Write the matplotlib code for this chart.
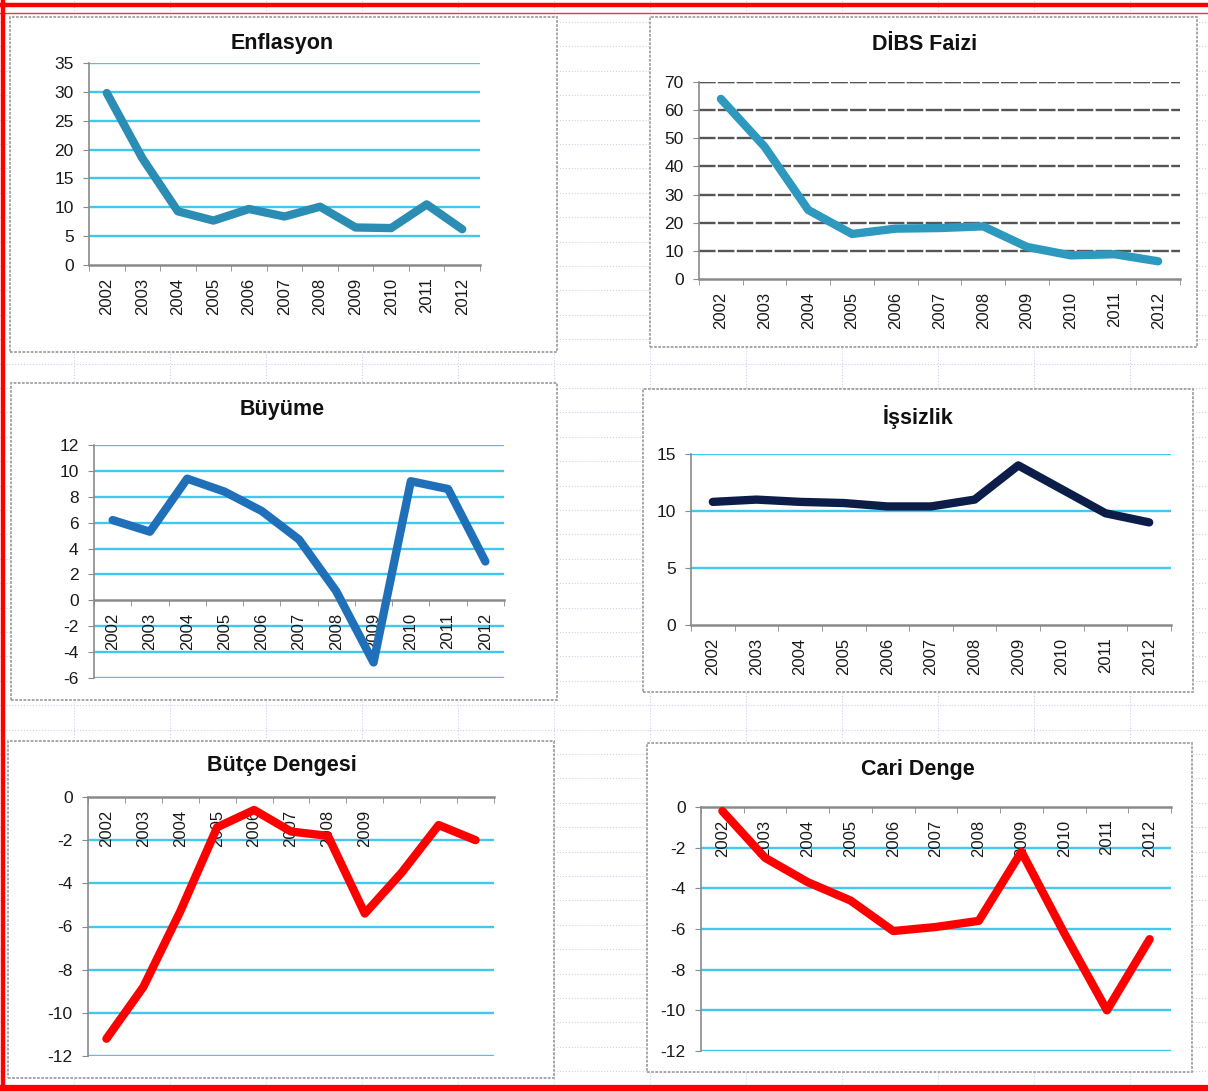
import numpy as np
import matplotlib.pyplot as plt
from matplotlib.patches import Rectangle
from matplotlib.lines import Line2D

plt.rcParams['font.family'] = ['Liberation Sans', 'DejaVu Sans']

years = ['2002', '2003', '2004', '2005', '2006', '2007', '2008', '2009', '2010', '2011', '2012']

enflasyon = [29.8, 18.5, 9.3, 7.7, 9.7, 8.4, 10.1, 6.5, 6.4, 10.5, 6.2]
dibs_faizi = [64.0, 47.0, 24.5, 16.0, 17.9, 18.1, 18.7, 11.4, 8.4, 8.8, 6.3]
buyume = [6.2, 5.3, 9.4, 8.4, 6.9, 4.7, 0.7, -4.8, 9.2, 8.6, 3.0]
issizlik = [10.8, 11.0, 10.8, 10.7, 10.4, 10.4, 11.0, 14.0, 11.9, 9.8, 9.0]
butce_dengesi = [-11.2, -8.8, -5.3, -1.4, -0.6, -1.6, -1.8, -5.4, -3.5, -1.3, -2.0]
cari_denge = [-0.2, -2.5, -3.7, -4.6, -6.1, -5.9, -5.6, -2.2, -6.2, -10.0, -6.5]

W, H = 1208, 1091
fig = plt.figure(figsize=(W / 100, H / 100), dpi=100)
fig.patch.set_facecolor('white')


def fx(px):
    return px / W


def fy(py):
    return 1 - py / H


# faint spreadsheet grid in the background
for x in np.arange(74, W, 96):
    fig.add_artist(Line2D([fx(x), fx(x)], [0, 1], color='#cfd0ee', lw=0.8, ls=':', zorder=0))
for y in np.arange(22, H, 24.4):
    fig.add_artist(Line2D([0, 1], [fy(y), fy(y)], color='#cfd0ee', lw=0.8, ls=':', zorder=0))

# red frame
fig.add_artist(Line2D([0, 1], [fy(5), fy(5)], color='#ff0000', lw=3.2, zorder=10))
fig.add_artist(Line2D([0, 1], [fy(12.5), fy(12.5)], color='#ff3030', lw=1.0, zorder=10))
fig.add_artist(Line2D([fx(2.5), fx(2.5)], [0, 1], color='#ff0000', lw=3.2, zorder=10))
fig.add_artist(Line2D([0, 1], [fy(1088), fy(1088)], color='#ff0000', lw=4.5, zorder=10))

blue_grid = '#40c8f0'


def panel(box, plot, title, tx, ty, values, color, ylim, step,
          grid_color=blue_grid, grid_ls='-', labels_top=False, zero_axis=False,
          shown=None):
    l, t, r, b = box
    fig.add_artist(Rectangle((fx(l), fy(b)), fx(r - l), (b - t) / H,
                             facecolor='white', edgecolor='#a0a0a0', lw=1.3,
                             ls=(0, (1.5, 0.8)), zorder=1))
    fig.text(fx(tx), fy(ty), title, ha='center', va='center',
             fontsize=15.5, fontweight='bold', color='#111111')
    pl, pt, pr, pb = plot
    ax = fig.add_axes([fx(pl), fy(pb), fx(pr - pl), (pb - pt) / H])
    ax.set_facecolor('none')
    ax.set_zorder(2)
    x = np.arange(len(years))
    ax.set_xlim(-0.5, len(years) - 0.5)
    ax.set_ylim(*ylim)
    ticks = np.arange(ylim[0], ylim[1] + step / 2, step)
    ax.set_yticks(ticks)
    ax.set_yticklabels([f'{v:g}' for v in ticks])
    for v in ticks:
        if v == 0 and (zero_axis or labels_top):
            continue
        if v == ylim[0] and not (zero_axis or labels_top):
            continue
        ax.axhline(v, color=grid_color, lw=1.7, ls=grid_ls, zorder=1)
    ax.plot(x, values, color=color, lw=6, solid_joinstyle='round',
            solid_capstyle='round', zorder=3)
    for s in ['top', 'right']:
        ax.spines[s].set_visible(False)
    ax.spines['left'].set_color('#8a8a8a')
    ax.spines['left'].set_linewidth(1.2)
    ax.spines['bottom'].set_color('#8a8a8a')
    ax.spines['bottom'].set_linewidth(1.8)
    if zero_axis or labels_top:
        ax.spines['bottom'].set_position(('data', 0))
    ax.set_xticks(x)
    lab = list(years) if shown is None else [y if i < shown else '' for i, y in enumerate(years)]
    ax.set_xticklabels(lab, rotation=90)
    ax.set_xticks(np.arange(-0.5, len(years)), minor=True)
    ax.tick_params(axis='x', which='major', length=0, pad=9, labelsize=12, colors='#1a1a1a')
    ax.tick_params(axis='x', which='minor', length=4, color='#8a8a8a', direction='out')
    ax.tick_params(axis='y', length=4, color='#8a8a8a', labelsize=12.5, pad=7,
                   labelcolor='#1a1a1a')
    return ax


panel((10, 17, 557, 352), (89, 63, 480, 265), 'Enflasyon', 282, 44,
      enflasyon, '#2b8db4', (0, 35), 5)

ax2 = panel((650, 17, 1197, 347), (699, 82, 1180, 279), 'DİBS Faizi', 925, 44,
            dibs_faizi, '#2e99be', (0, 70), 10, grid_color='#555555', grid_ls=(0, (7, 1)))
ax2.axhline(70, color='#555555', lw=1.7, ls=(0, (7, 1)))

panel((11, 383, 557, 700), (94, 445, 504, 678), 'Büyüme', 282, 410,
      buyume, '#1f70b8', (-6, 12), 2, zero_axis=True)

panel((643, 389, 1193, 692), (691, 454, 1171, 625), 'İşsizlik', 918, 417,
      issizlik, '#0c1d4a', (0, 15), 5)

panel((8, 741, 554, 1078), (88, 797, 494, 1056), 'Bütçe Dengesi', 282, 765,
      butce_dengesi, '#ff0000', (-12, 0), 2, labels_top=True, shown=8)

panel((647, 743, 1192, 1072), (701, 807, 1171, 1051), 'Cari Denge', 918, 770,
      cari_denge, '#ff0000', (-12, 0), 2, labels_top=True)

plt.savefig('out.png', dpi=100)
